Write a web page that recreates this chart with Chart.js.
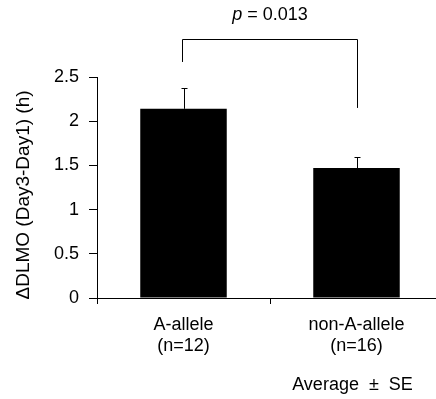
<!DOCTYPE html>
<html>
<head>
<meta charset="utf-8">
<script src="https://cdn.jsdelivr.net/npm/chart.js@4"></script>
<style>
    html, body { margin: 0; padding: 0; background: #fff; overflow: hidden; }
    #wrap { width: 443px; height: 399px; }
</style>
</head>
<body>
<div id="wrap"><canvas id="chart"></canvas></div>
<script>
(function () {
    'use strict';

    var categories = [['A-allele', '(n=12)'], ['non-A-allele', '(n=16)']];
    var means = [2.14, 1.47];
    var errors = [0.23, 0.12];
    var yTicks = [0, 0.5, 1, 1.5, 2, 2.5];
    var yTitle = '\u0394DLMO (Day3-Day1) (h)';
    var pText = '= 0.013';
    var bracketTop = 2.93;
    var bracketEnds = [2.67, 2.15];
    var footnote = 'Average  \u00b1  SE';

    var font = '"Liberation Sans", Arial, sans-serif';

    // y title, error bars, significance bracket, p value and footnote
    var extras = {
        id: 'extras',
        afterDatasetsDraw: function (chart) {
            var ctx = chart.ctx;
            var x = chart.scales.x;
            var y = chart.scales.y;
            var meta = chart.getDatasetMeta(0);

            ctx.save();
            ctx.strokeStyle = '#000';
            ctx.lineWidth = 1;
            meta.data.forEach(function (bar, i) {
                var top = Math.round(y.getPixelForValue(means[i] + errors[i])) + 0.5;
                var px = Math.round(bar.x) + 0.5;
                ctx.beginPath();
                ctx.moveTo(px, bar.y);
                ctx.lineTo(px, top);
                ctx.moveTo(px - 3, top);
                ctx.lineTo(px + 3, top);
                ctx.stroke();
            });

            var x0 = Math.round(x.getPixelForValue(0)) - 1.5;
            var x1 = Math.round(x.getPixelForValue(1)) + 0.5;
            var yb = Math.round(y.getPixelForValue(bracketTop)) + 0.5;
            ctx.beginPath();
            ctx.moveTo(x0, y.getPixelForValue(bracketEnds[0]));
            ctx.lineTo(x0, yb);
            ctx.lineTo(x1, yb);
            ctx.lineTo(x1, y.getPixelForValue(bracketEnds[1]));
            ctx.stroke();

            ctx.fillStyle = '#000';
            ctx.textBaseline = 'middle';
            ctx.font = 'italic 18px ' + font;
            var pw = ctx.measureText('p ').width;
            ctx.font = '18px ' + font;
            var rw = ctx.measureText(pText).width;
            var start = (x0 + x1) / 2 - (pw + rw) / 2;
            ctx.textAlign = 'left';
            ctx.font = 'italic 18px ' + font;
            ctx.fillText('p ', start, 15);
            ctx.font = '18px ' + font;
            ctx.fillText(pText, start + pw, 15);

            ctx.textAlign = 'center';
            ctx.fillText(footnote, x1 - 5, 385);

            ctx.save();
            ctx.translate(28.5, 195);
            ctx.rotate(-Math.PI / 2);
            ctx.font = '19px ' + font;
            ctx.textBaseline = 'alphabetic';
            ctx.fillText(yTitle, 0, 0);
            ctx.restore();

            ctx.restore();
        }
    };

    new Chart(document.getElementById('chart'), {
        type: 'bar',
        data: {
            labels: categories,
            datasets: [{
                data: means,
                backgroundColor: '#000',
                borderWidth: 0,
                categoryPercentage: 1,
                barPercentage: 0.5
            }]
        },
        options: {
            responsive: true,
            maintainAspectRatio: false,
            animation: false,
            layout: { padding: { top: 77, right: 0, left: 0, bottom: 0 } },
            plugins: { legend: { display: false }, tooltip: { enabled: false } },
            scales: {
                x: {
                    offset: true,
                    grid: { offset: true, drawOnChartArea: false, tickLength: 6, color: '#000' },
                    border: { color: '#000' },
                    ticks: { color: '#000', font: { family: font, size: 18 }, padding: 10, maxRotation: 0 },
                    afterFit: function (scale) { scale.height = 101; }
                },
                y: {
                    min: 0,
                    max: 2.5,
                    afterBuildTicks: function (scale) {
                        scale.ticks = yTicks.map(function (v) { return { value: v }; });
                    },
                    grid: { drawOnChartArea: false, tickLength: 8, color: '#000' },
                    border: { color: '#000' },
                    ticks: {
                        color: '#000',
                        font: { family: font, size: 18 },
                        padding: 10,
                        callback: function (v) { return String(v); }
                    },
                    afterFit: function (scale) { scale.width = 97; }
                }
            }
        },
        plugins: [extras]
    });
})();
</script>
</body>
</html>
